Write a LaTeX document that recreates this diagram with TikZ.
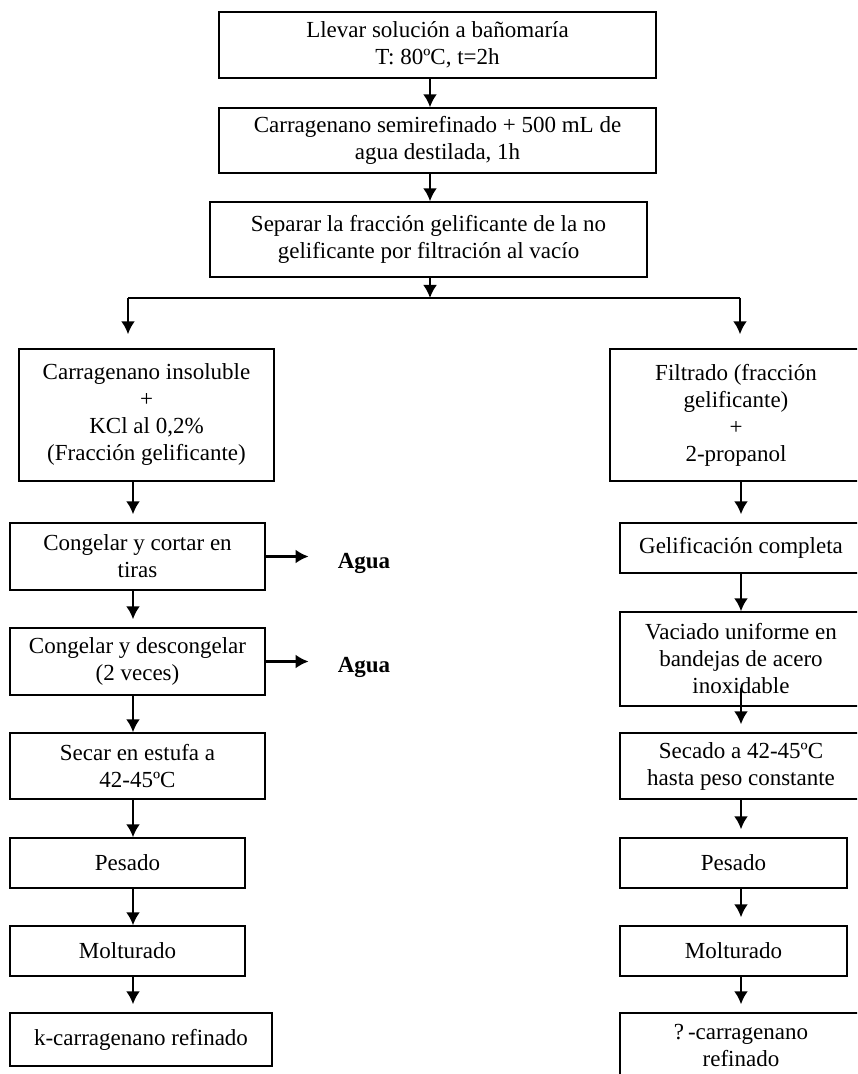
\documentclass[tikz,border=0pt]{standalone}
\usepackage{fontspec}
\setmainfont{Liberation Serif}
\usetikzlibrary{arrows.meta}

\begin{document}
\begin{tikzpicture}[x=0.5pt,y=-0.5pt,->,>={Latex[length=6.5pt,width=7pt]},
  line width=1.2pt,
  paso/.style={draw,line width=0.7pt,align=center,inner sep=2pt,
  font=\fontsize{11.5}{13.5}\selectfont},
  salida/.style={font=\fontsize{11.5}{13.5}\selectfont\bfseries,inner sep=0pt},
  hueco/.style={shorten >=4pt}]
  \useasboundingbox (0,0) rectangle (857,1074);
  \clip (0,0) rectangle (857,1074);

  % tronco comun
  \node[paso,minimum width=218.5pt,minimum height=33pt] (b1) at (437.5,45)
    {Llevar solución a bañomaría\\T: 80ºC, t=2h};
  \node[paso,minimum width=218.5pt,minimum height=32.5pt] (b2) at (437.5,140.5)
    {Carragenano semirefinado + 500 mL de\\agua destilada, 1h};
  \node[paso,minimum width=218.5pt,minimum height=37.5pt] (b3) at (428.5,239.5)
    {Separar la fracción gelificante de la no\\gelificante por filtración al vacío};

  % rama izquierda
  \node[paso,minimum width=127.5pt,minimum height=66pt] (A) at (146.5,415)
    {Carragenano insoluble\\+\\KCl al 0,2\%\\(Fracción gelificante)};
  \node[paso,minimum width=127.5pt,minimum height=33.5pt] (B) at (137.5,556.5)
    {Congelar y cortar en\\tiras};
  \node[paso,minimum width=127.5pt,minimum height=33.5pt] (C) at (137.5,661.5)
    {Congelar y descongelar\\(2 veces)};
  \node[paso,minimum width=127.5pt,minimum height=33pt] (D) at (137.5,766)
    {Secar en estufa a\\42-45ºC};
  \node[paso,minimum width=117.5pt,minimum height=25pt] (E) at (127.5,863) {Pesado};
  \node[paso,minimum width=117.5pt,minimum height=25pt] (F) at (127.5,951) {Molturado};
  \node[paso,minimum width=131pt,minimum height=26.5pt] (G) at (141,1039.5)
    {k-carragenano refinado};
  \node[salida] (ag1) at (364,563) {Agua};
  \node[salida] (ag2) at (364,667) {Agua};

  % rama derecha
  \node[paso,minimum width=126pt,minimum height=66pt] (H) at (736,415)
    {Filtrado (fracción\\gelificante)\\+\\2-propanol};
  \node[paso,minimum width=121pt,minimum height=25pt] (I) at (741,548)
    {Gelificación completa};
  \node[paso,minimum width=121pt,minimum height=47pt] (J) at (741,659)
    {Vaciado uniforme en\\bandejas de acero\\inoxidable};
  \node[paso,minimum width=121pt,minimum height=33pt] (K) at (741,766)
    {Secado a 42-45ºC\\hasta peso constante};
  \node[paso,minimum width=113.5pt,minimum height=25pt] (L) at (733.5,863) {Pesado};
  \node[paso,minimum width=113.5pt,minimum height=25pt] (M) at (733.5,951) {Molturado};
  \node[paso,minimum width=121pt,minimum height=32.5pt] (N) at (741,1045.5)
    {?\,-carragenano\\refinado};

  \coordinate (mc) at (430,0);
  \coordinate (lc) at (133,0);
  \coordinate (rc) at (741,0);
  \coordinate (sl) at (128,298);
  \coordinate (sr) at (740,298);

  \draw (b1.south -| mc) -- (b2.north -| mc);
  \draw (b2.south -| mc) -- (b3.north -| mc);
  \draw (b3.south -| mc) -- (mc |- sl);
  \draw[-] (sl) -- (sr);
  \draw[shorten >=7pt] (sl) -- (A.north -| sl);
  \draw[shorten >=7pt] (sr) -- (H.north -| sr);

  \draw[hueco] (A.south -| lc) -- (B.north -| lc);
  \draw[hueco] (B.south -| lc) -- (C.north -| lc);
  \draw (C.south -| lc) -- (D.north -| lc);
  \draw (D.south -| lc) -- (E.north -| lc);
  \draw (E.south -| lc) -- (F.north -| lc);
  \draw[hueco] (F.south -| lc) -- (G.north -| lc);
  \draw[shorten >=14pt] (B.east) -- (B.east -| ag1.west);
  \draw[shorten >=14pt] (C.east) -- (C.east -| ag2.west);

  \draw[hueco] (H.south -| rc) -- (I.north -| rc);
  \draw (I.south -| rc) -- (J.north -| rc);
  \draw[hueco,shorten <=-9.5pt] (J.south -| rc) -- (K.north -| rc);
  \draw[hueco] (K.south -| rc) -- (L.north -| rc);
  \draw[hueco] (L.south -| rc) -- (M.north -| rc);
  \draw[hueco] (M.south -| rc) -- (N.north -| rc);
\end{tikzpicture}
\end{document}
